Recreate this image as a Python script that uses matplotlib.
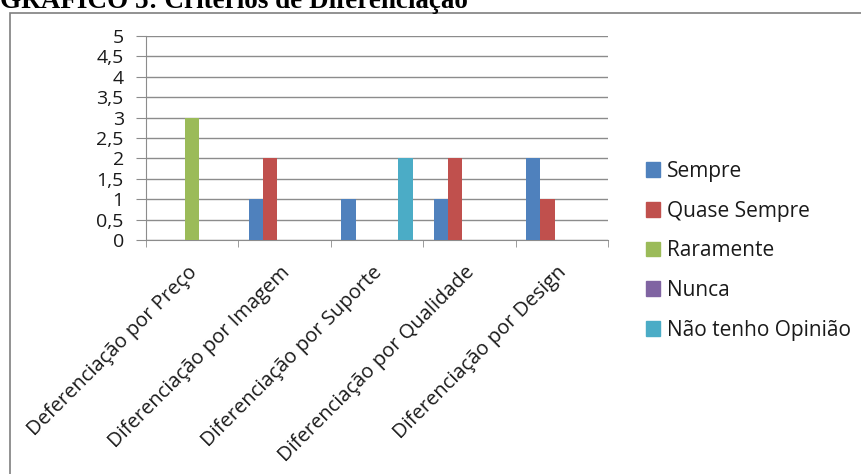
import numpy as np
import matplotlib.pyplot as plt
from matplotlib.patches import Rectangle
from matplotlib.transforms import ScaledTranslation

categories = ["Deferenciação por Preço", "Diferenciação por Imagem",
              "Diferenciação por Suporte", "Diferenciação por Qualidade",
              "Diferenciação por Design"]
series_names = ["Sempre", "Quase Sempre", "Raramente", "Nunca", "Não tenho Opinião"]
sempre = [0, 1, 1, 1, 2]
quase_sempre = [0, 2, 0, 2, 1]
raramente = [3, 0, 0, 0, 0]
nunca = [0, 0, 0, 0, 0]
nao_tenho_opiniao = [0, 0, 2, 0, 0]
colors = ["#4F81BD", "#C0504D", "#9BBB59", "#8064A2", "#4BACC6"]
y_ticks = [0, 0.5, 1, 1.5, 2, 2.5, 3, 3.5, 4, 4.5, 5]

W, H = 861, 474
fig = plt.figure(figsize=(W / 100, H / 100), dpi=100)
plt.rcParams['font.family'] = ['Open Sans', 'DejaVu Sans']
txt_c = "#1a1a1a"

ax = fig.add_axes([146 / W, 1 - 240 / H, (608 - 146) / W, (240 - 36) / H])

values = [sempre, quase_sempre, raramente, nunca, nao_tenho_opiniao]
x = np.arange(len(categories))
bw = 1 / 6.5
for i, (name, vals) in enumerate(zip(series_names, values)):
    ax.bar(x + (i - 2) * bw, vals, width=bw, color=colors[i], label=name, zorder=3)

grid_c = "#8c8c8c"
ax.set_xlim(-0.5, len(categories) - 0.5)
ax.set_ylim(0, 5)
ax.set_yticks(y_ticks)
ax.set_yticklabels([f"{v:g}".replace(".", ",") for v in y_ticks], fontsize=14, color=txt_c)
ax.yaxis.grid(True, color=grid_c, lw=1, zorder=0)
ax.tick_params(axis="y", length=7, color=grid_c, pad=9)

ax.set_xticks(x)
ax.set_xticklabels(categories, rotation=45, ha="right", va="top",
                   rotation_mode="anchor", fontsize=14.5, color=txt_c)
ax.tick_params(axis="x", which="major", length=0, pad=16)
shift = ScaledTranslation(-5 / 100, 0, fig.dpi_scale_trans)
for lbl in ax.get_xticklabels():
    lbl.set_transform(lbl.get_transform() + shift)
ax.set_xticks(np.arange(-0.5, len(categories)), minor=True)
ax.tick_params(axis="x", which="minor", length=5, color=grid_c)

for s in ["top", "right"]:
    ax.spines[s].set_visible(False)
for s in ["left", "bottom"]:
    ax.spines[s].set_color(grid_c)

handles = [Rectangle((0, 0), 1, 1, color=c) for c in colors]
fig.legend(handles, series_names, loc="upper left",
           bbox_to_anchor=(627 / W, 1 - 142 / H), frameon=False,
           fontsize=15, handlelength=0.7, handleheight=0.7,
           handletextpad=0.3, labelspacing=0.9, labelcolor=txt_c)

# outer chart border
fig.patches.append(Rectangle((10 / W, -0.1), 1.2, 1 - 13 / H + 0.1,
                             transform=fig.transFigure, fill=False,
                             edgecolor="#7f7f7f", lw=1.2))

fig.text(0, 1 - 8 / H, "GRÁFICO 5: Critérios de Diferenciação",
         fontfamily="Liberation Serif", fontweight="bold", fontsize=19.5,
         va="baseline", ha="left")

fig.savefig("out.png", dpi=100)
